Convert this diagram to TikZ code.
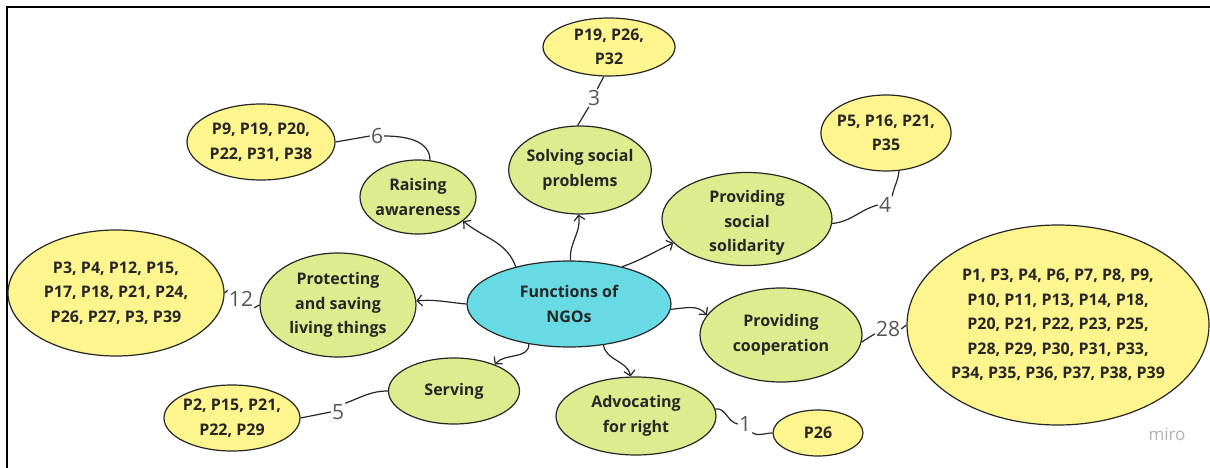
\documentclass[tikz,border=0pt]{standalone}
\usepackage{fontspec}
\setmainfont{Open Sans}
\usepackage{tikz}
\usetikzlibrary{arrows.meta,positioning,shapes.geometric}
\definecolor{funcgreen}{RGB}{221,236,142}
\definecolor{leafyellow}{RGB}{255,245,142}
\definecolor{corecyan}{RGB}{104,218,228}
\definecolor{countgray}{RGB}{85,85,85}

\begin{document}
\begin{tikzpicture}[x=1pt, y=-1pt,
    caption/.style={align=center, text=black!85, font=\fontsize{16}{24.5}\selectfont\bfseries},
    bubble/.style={ellipse, draw=black!85, line width=1.2pt, fill=#1, inner sep=-3pt, caption},
    count/.style={font=\fontsize{21}{21}\selectfont, text=countgray, inner sep=1pt},
    link/.style={draw=black!85, line width=1.2pt},
    arr/.style={draw=black!85, line width=1.2pt, -{Straight Barb[length=5pt,width=11pt]}}]

\useasboundingbox (0,0) rectangle (1210,468);
\draw[line width=2.5pt] (7,468) -- (7,7) -- (1210,7);

% centre and the seven functions
\node[bubble=corecyan, minimum width=204, minimum height=86] (ngo) at (569,304) {Functions of\\NGOs};
\node[bubble=funcgreen, minimum width=116, minimum height=74] (aware) at (418,197) {Raising\\awareness};
\node[bubble=funcgreen, minimum width=122, minimum height=88] (solve) at (580,170) {Solving social\\problems};
\node[bubble=funcgreen, minimum width=170, minimum height=93] (solid) at (747,219) {};
\node[caption] (solidtxt) at ([yshift=-4pt]solid.center) {Providing\\social\\solidarity};
\node[bubble=funcgreen, minimum width=162, minimum height=94] (coop) at (781,335) {Providing\\cooperation};
\node[bubble=funcgreen, minimum width=160, minimum height=78] (advoc) at (636,416) {Advocating\\for right};
\node[bubble=funcgreen, minimum width=131, minimum height=66] (serve) at (454,391) {Serving};
\node[bubble=funcgreen, minimum width=156, minimum height=104] (protect) at (338,305) {Protecting\\and saving\\living things};

% participant lists
\node[bubble=leafyellow, minimum width=132, minimum height=58] (l3) at (609,47) {P19, P26,\\P32};
\node[bubble=leafyellow, minimum width=148, minimum height=76] (l6) at (261,142) {P9, P19, P20,\\P22, P31, P38};
\node[bubble=leafyellow, minimum width=124, minimum height=76] (l4) at (886,133) {P5, P16, P21,\\P35};
\node[bubble=leafyellow, minimum width=216, minimum height=126] (l12) at (116,293) {P3, P4, P12, P15,\\P17, P18, P21, P24,\\P26, P27, P3, P39};
\node[bubble=leafyellow, minimum width=302, minimum height=200] (l28) at (1058,325)
    {P1, P3, P4, P6, P7, P8, P9,\\P10, P11, P13, P14, P18,\\P20, P21, P22, P23, P25,\\P28, P29, P30, P31, P33,\\P34, P35, P36, P37, P38, P39};
\node[bubble=leafyellow, minimum width=90, minimum height=46] (l1) at (818,433) {P26};
\node[bubble=leafyellow, minimum width=136, minimum height=66] (l5) at (232,418) {P2, P15, P21,\\P22, P29};

% counts
\node[count] (c6) at (377,136) {6};
\node[count] (c3) at (594,98) {3};
\node[count] (c4) at (885,205) {4};
\node[count] (c12) at (241,299) {12};
\node[count] (c28) at (888,329) {28};
\node[count] (c1) at (745,424) {1};
\node[count] (c5) at (338,412) {5};

\node[font=\fontsize{17}{17}\selectfont, text=black!30] (wm) at (1167,434) {miro};

% arrows out of the centre
\draw[arr] (ngo.145) to[out=110, in=-40] (aware.-28);
\draw[arr] (ngo.88) to[out=95, in=-80] (solve.-92);
\draw[arr] (ngo.35) to[out=20, in=205] (solid.198);
\draw[arr] (ngo.180) to[out=175, in=5] (protect.3);
\draw[arr] (ngo.-135) to[out=-90, in=50] (serve.33);
\draw[arr] (ngo.-50) to[out=-80, in=100] (advoc.98);
\draw[arr] (ngo.-3) to[out=5, in=130] (coop.165);

% count links
\draw[link] (l6.east) -- (c6.west);
\draw[link] (c6.east) to[out=0, in=90] (aware.72);
\draw[link] (solve.93) -- (c3.-120);
\draw[link] (c3.70) -- (l3.-100);
\draw[link] (solid.-3) to[out=5, in=195] (c4.west);
\draw[link] (c4.north east) to[out=80, in=-95] (l4.-71);
\draw[link] (l12.east) -- (c12.north west);
\draw[link] (c12.south east) -- (protect.west);
\draw[link] (coop.-5) -- (c28.-160);
\draw[link] (c28.east) -- (l28.west);
\draw[link] (advoc.5) to[out=10, in=170] (c1.west);
\draw[link] (c1.south east) to[out=-30, in=180] (l1.west);
\draw[link] (serve.180) to[out=180, in=20] (c5.north east);
\draw[link] (c5.west) -- (l5.east);
\end{tikzpicture}
\end{document}
